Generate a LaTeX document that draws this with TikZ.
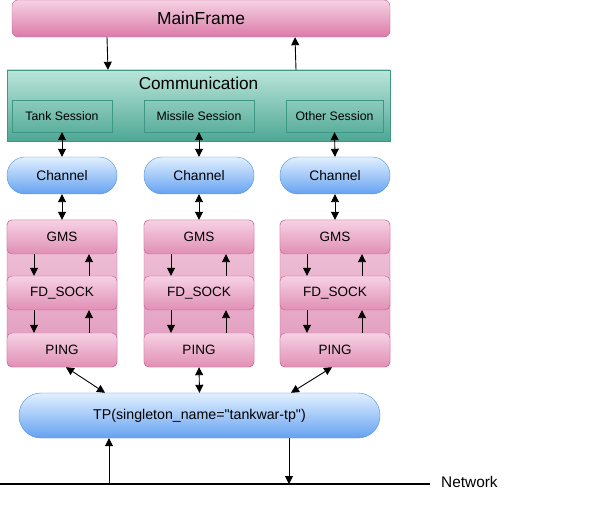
\documentclass[tikz,border=0pt]{standalone}
\usepackage{fontspec}
\setmainfont{Liberation Sans}[Ligatures=TeXOff]
\usetikzlibrary{arrows.meta}
\definecolor{pinktop}{HTML}{F6D2E4}
\definecolor{pinkbot}{HTML}{DB7BA7}
\definecolor{pinkline}{HTML}{C85A92}
\definecolor{stacktop}{HTML}{F1C8DC}
\definecolor{stackbot}{HTML}{E096BC}
\definecolor{tealtop}{HTML}{BAE5DA}
\definecolor{tealbot}{HTML}{4EA795}
\definecolor{tealline}{HTML}{3C9884}
\definecolor{bluetop}{HTML}{E2F0FF}
\definecolor{bluebot}{HTML}{65A2F1}
\definecolor{blueline}{HTML}{4A8FE0}
\tikzstyle{frame}=[draw=pinkline,top color=pinktop,bottom color=pinkbot,rounded corners=6pt,inner sep=0pt]
\tikzstyle{stack}=[draw=pinkline,top color=stacktop,bottom color=stackbot,rounded corners=5pt,inner sep=0pt,minimum width=110pt,minimum height=147pt]
\tikzstyle{layer}=[draw=pinkline,top color=pinktop,bottom color=pinkbot!85!white,rounded corners=5pt,inner sep=0pt,minimum width=110pt,minimum height=34pt,font=\fontsize{13.5}{16}\selectfont]
\tikzstyle{comm}=[draw=tealline,top color=tealtop,bottom color=tealbot,inner sep=0pt]
\tikzstyle{session}=[draw=tealline,inner sep=0pt,minimum height=32pt,font=\fontsize{12.3}{15}\selectfont]
\tikzstyle{channel}=[draw=blueline,top color=bluetop,bottom color=bluebot,rounded corners=18pt,inner sep=0pt,minimum width=110pt,minimum height=37pt,font=\fontsize{13.8}{16}\selectfont]
\tikzstyle{conn}=[-{Triangle[length=8pt,width=8pt]},line width=0.9pt]
\tikzstyle{biconn}=[{Triangle[length=8pt,width=8pt]}-{Triangle[length=8pt,width=8pt]},line width=0.9pt]
\begin{document}
\begin{tikzpicture}[x=1pt,y=-1pt]
  \useasboundingbox (0,0) rectangle (589,510);
  % top
  \node[frame,minimum width=378pt,minimum height=37pt,font=\fontsize{17.4}{20}\selectfont] (MF) at (201,18.5) {MainFrame};
  \node[comm,minimum width=383pt,minimum height=71pt] (CO) at (198.5,105.5) {};
  \node[font=\fontsize{17.2}{20}\selectfont] (CT) at (198.5,83) {Communication};
  \node[session,minimum width=100pt] (TS) at (62,116)    {Tank Session};
  \node[session,minimum width=110pt] (MS) at (199,116)   {Missile Session};
  \node[session,minimum width=97pt]  (OS) at (334.5,116) {Other Session};
  % channels
  \node[channel] (CH1) at (62,175.5)  {Channel};
  \node[channel] (CH2) at (199,175.5) {Channel};
  \node[channel] (CH3) at (335,175.5) {Channel};
  % stacks
  \node[stack] (ST1) at (62,293.5)  {};
  \node[stack] (ST2) at (199,293.5) {};
  \node[stack] (ST3) at (335,293.5) {};
  \node[layer] (GMS1) at (62,237)  {GMS};
  \node[layer] (GMS2) at (199,237) {GMS};
  \node[layer] (GMS3) at (335,237) {GMS};
  \node[layer] (FD1) at (62,293)  {FD\_SOCK};
  \node[layer] (FD2) at (199,293) {FD\_SOCK};
  \node[layer] (FD3) at (335,293) {FD\_SOCK};
  \node[layer] (PG1) at (62,350)  {PING};
  \node[layer] (PG2) at (199,350) {PING};
  \node[layer] (PG3) at (335,350) {PING};
  % transport
  \node[channel,rounded corners=22pt,minimum width=361pt,minimum height=45pt,font=\fontsize{14.2}{17}\selectfont] (TP) at (199.5,415.5) {TP(singleton\_name="tankwar-tp")};
  % network
  \coordinate (NL) at (0,484);
  \coordinate (NR) at (430,484);
  \coordinate (NA) at (109,484);
  \coordinate (NB) at (289,484);
  \draw[line width=1.8pt] (NL) -- (NR);
  \node[anchor=west,inner sep=0pt,font=\fontsize{15.4}{18}\selectfont] (NT) at (441,482) {Network};
  % arrows
  \draw[conn] ([xshift=-94pt]MF.south) -- ([xshift=-90.5pt]CO.north);
  \draw[conn] ([xshift=97.5pt]CO.north) -- ([xshift=94pt]MF.south);
  \draw[biconn] (TS.south) -- (CH1.north);
  \draw[biconn] (MS.south) -- (CH2.north);
  \draw[biconn] (OS.south) -- (CH3.north);
  \draw[biconn] (CH1.south) -- (GMS1.north);
  \draw[biconn] (CH2.south) -- (GMS2.north);
  \draw[biconn] (CH3.south) -- (GMS3.north);
  \draw[conn] ([xshift=-28pt]GMS1.south) -- ([xshift=-28pt]FD1.north);
  \draw[conn] ([xshift=27pt]FD1.north) -- ([xshift=27pt]GMS1.south);
  \draw[conn] ([xshift=-28pt]FD1.south) -- ([xshift=-28pt]PG1.north);
  \draw[conn] ([xshift=27pt]PG1.north) -- ([xshift=27pt]FD1.south);
  \draw[conn] ([xshift=-28pt]GMS2.south) -- ([xshift=-28pt]FD2.north);
  \draw[conn] ([xshift=27pt]FD2.north) -- ([xshift=27pt]GMS2.south);
  \draw[conn] ([xshift=-28pt]FD2.south) -- ([xshift=-28pt]PG2.north);
  \draw[conn] ([xshift=27pt]PG2.north) -- ([xshift=27pt]FD2.south);
  \draw[conn] ([xshift=-28pt]GMS3.south) -- ([xshift=-28pt]FD3.north);
  \draw[conn] ([xshift=27pt]FD3.north) -- ([xshift=27pt]GMS3.south);
  \draw[conn] ([xshift=-28pt]FD3.south) -- ([xshift=-28pt]PG3.north);
  \draw[conn] ([xshift=27pt]PG3.north) -- ([xshift=27pt]FD3.south);
  \draw[biconn] ([xshift=4pt]PG1.south) -- ([xshift=-94.5pt]TP.north);
  \draw[biconn] (PG2.south) -- (TP.north);
  \draw[biconn] ([xshift=-3pt]PG3.south) -- ([xshift=91.5pt]TP.north);
  \draw[conn] (NA) -- (NA |- TP.south);
  \draw[conn] (NB |- TP.south) -- (NB);
\end{tikzpicture}
\end{document}
